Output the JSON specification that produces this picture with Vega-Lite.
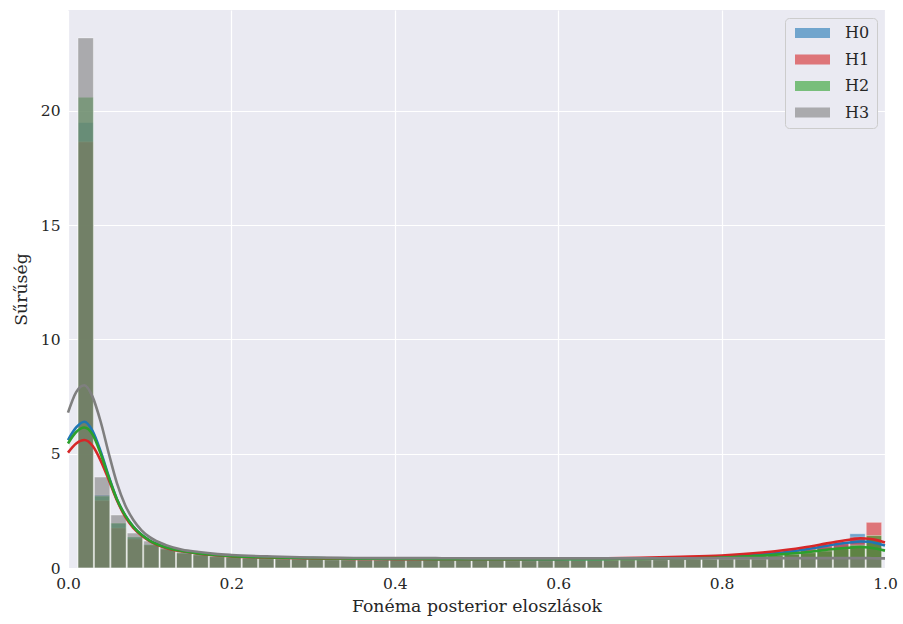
{
"$schema": "https://vega.github.io/schema/vega-lite/v6.json",
"width": 817, "height": 558,
"autosize": {"type": "none"},
"padding": {"left": 68, "top": 10, "right": 18, "bottom": 56},
"background": "white",
"config": {
  "font": "DejaVu Serif",
  "view": {"fill": "#EAEAF2", "stroke": null},
  "axis": {"domain": false, "ticks": false, "grid": true, "labelFlush": false, "gridColor": "white", "gridWidth": 1.2, "labelFont": "DejaVu Serif", "labelFontSize": 15.5, "labelColor": "#262626", "titleFont": "DejaVu Serif", "titleFontSize": 17.3, "titleFontWeight": "normal", "titleColor": "#262626"}
},
"datasets": {
"hist": [
{"s":"H0","x0":0.011,"x1":0.0311,"y":19.5},{"s":"H1","x0":0.011,"x1":0.0311,"y":18.65},{"s":"H2","x0":0.011,"x1":0.0311,"y":20.6},{"s":"H3","x0":0.011,"x1":0.0311,"y":23.2},
{"s":"H0","x0":0.0311,"x1":0.0512,"y":3.2},{"s":"H1","x0":0.0311,"x1":0.0512,"y":2.95},{"s":"H2","x0":0.0311,"x1":0.0512,"y":3.15},{"s":"H3","x0":0.0311,"x1":0.0512,"y":3.98},
{"s":"H0","x0":0.0512,"x1":0.0713,"y":1.95},{"s":"H1","x0":0.0512,"x1":0.0713,"y":1.75},{"s":"H2","x0":0.0512,"x1":0.0713,"y":1.97},{"s":"H3","x0":0.0512,"x1":0.0713,"y":2.32},
{"s":"H0","x0":0.0713,"x1":0.0914,"y":1.35},{"s":"H1","x0":0.0713,"x1":0.0914,"y":1.27},{"s":"H2","x0":0.0713,"x1":0.0914,"y":1.36},{"s":"H3","x0":0.0713,"x1":0.0914,"y":1.53},
{"s":"H0","x0":0.0914,"x1":0.1115,"y":1.02},{"s":"H1","x0":0.0914,"x1":0.1115,"y":1.0},{"s":"H2","x0":0.0914,"x1":0.1115,"y":1.03},{"s":"H3","x0":0.0914,"x1":0.1115,"y":1.18},
{"s":"H0","x0":0.1115,"x1":0.1316,"y":0.84},{"s":"H1","x0":0.1115,"x1":0.1316,"y":0.82},{"s":"H2","x0":0.1115,"x1":0.1316,"y":0.84},{"s":"H3","x0":0.1115,"x1":0.1316,"y":0.92},
{"s":"H0","x0":0.1316,"x1":0.1517,"y":0.66},{"s":"H1","x0":0.1316,"x1":0.1517,"y":0.64},{"s":"H2","x0":0.1316,"x1":0.1517,"y":0.66},{"s":"H3","x0":0.1316,"x1":0.1517,"y":0.7},
{"s":"H0","x0":0.1517,"x1":0.1718,"y":0.57},{"s":"H1","x0":0.1517,"x1":0.1718,"y":0.56},{"s":"H2","x0":0.1517,"x1":0.1718,"y":0.58},{"s":"H3","x0":0.1517,"x1":0.1718,"y":0.61},
{"s":"H0","x0":0.1718,"x1":0.1919,"y":0.5},{"s":"H1","x0":0.1718,"x1":0.1919,"y":0.49},{"s":"H2","x0":0.1718,"x1":0.1919,"y":0.5},{"s":"H3","x0":0.1718,"x1":0.1919,"y":0.53},
{"s":"H0","x0":0.1919,"x1":0.212,"y":0.46},{"s":"H1","x0":0.1919,"x1":0.212,"y":0.45},{"s":"H2","x0":0.1919,"x1":0.212,"y":0.46},{"s":"H3","x0":0.1919,"x1":0.212,"y":0.48},
{"s":"H0","x0":0.212,"x1":0.2321,"y":0.43},{"s":"H1","x0":0.212,"x1":0.2321,"y":0.42},{"s":"H2","x0":0.212,"x1":0.2321,"y":0.43},{"s":"H3","x0":0.212,"x1":0.2321,"y":0.45},
{"s":"H0","x0":0.2321,"x1":0.2522,"y":0.41},{"s":"H1","x0":0.2321,"x1":0.2522,"y":0.4},{"s":"H2","x0":0.2321,"x1":0.2522,"y":0.41},{"s":"H3","x0":0.2321,"x1":0.2522,"y":0.43},
{"s":"H0","x0":0.2522,"x1":0.2723,"y":0.39},{"s":"H1","x0":0.2522,"x1":0.2723,"y":0.39},{"s":"H2","x0":0.2522,"x1":0.2723,"y":0.4},{"s":"H3","x0":0.2522,"x1":0.2723,"y":0.42},
{"s":"H0","x0":0.2723,"x1":0.2924,"y":0.38},{"s":"H1","x0":0.2723,"x1":0.2924,"y":0.37},{"s":"H2","x0":0.2723,"x1":0.2924,"y":0.38},{"s":"H3","x0":0.2723,"x1":0.2924,"y":0.41},
{"s":"H0","x0":0.2924,"x1":0.3125,"y":0.37},{"s":"H1","x0":0.2924,"x1":0.3125,"y":0.36},{"s":"H2","x0":0.2924,"x1":0.3125,"y":0.37},{"s":"H3","x0":0.2924,"x1":0.3125,"y":0.4},
{"s":"H0","x0":0.3125,"x1":0.3326,"y":0.36},{"s":"H1","x0":0.3125,"x1":0.3326,"y":0.36},{"s":"H2","x0":0.3125,"x1":0.3326,"y":0.36},{"s":"H3","x0":0.3125,"x1":0.3326,"y":0.4},
{"s":"H0","x0":0.3326,"x1":0.3527,"y":0.36},{"s":"H1","x0":0.3326,"x1":0.3527,"y":0.35},{"s":"H2","x0":0.3326,"x1":0.3527,"y":0.36},{"s":"H3","x0":0.3326,"x1":0.3527,"y":0.39},
{"s":"H0","x0":0.3527,"x1":0.3728,"y":0.35},{"s":"H1","x0":0.3527,"x1":0.3728,"y":0.35},{"s":"H2","x0":0.3527,"x1":0.3728,"y":0.35},{"s":"H3","x0":0.3527,"x1":0.3728,"y":0.39},
{"s":"H0","x0":0.3728,"x1":0.3929,"y":0.35},{"s":"H1","x0":0.3728,"x1":0.3929,"y":0.34},{"s":"H2","x0":0.3728,"x1":0.3929,"y":0.35},{"s":"H3","x0":0.3728,"x1":0.3929,"y":0.38},
{"s":"H0","x0":0.3929,"x1":0.413,"y":0.34},{"s":"H1","x0":0.3929,"x1":0.413,"y":0.34},{"s":"H2","x0":0.3929,"x1":0.413,"y":0.34},{"s":"H3","x0":0.3929,"x1":0.413,"y":0.38},
{"s":"H0","x0":0.413,"x1":0.4331,"y":0.34},{"s":"H1","x0":0.413,"x1":0.4331,"y":0.34},{"s":"H2","x0":0.413,"x1":0.4331,"y":0.34},{"s":"H3","x0":0.413,"x1":0.4331,"y":0.38},
{"s":"H0","x0":0.4331,"x1":0.4532,"y":0.34},{"s":"H1","x0":0.4331,"x1":0.4532,"y":0.33},{"s":"H2","x0":0.4331,"x1":0.4532,"y":0.34},{"s":"H3","x0":0.4331,"x1":0.4532,"y":0.38},
{"s":"H0","x0":0.4532,"x1":0.4733,"y":0.33},{"s":"H1","x0":0.4532,"x1":0.4733,"y":0.33},{"s":"H2","x0":0.4532,"x1":0.4733,"y":0.33},{"s":"H3","x0":0.4532,"x1":0.4733,"y":0.38},
{"s":"H0","x0":0.4733,"x1":0.4934,"y":0.33},{"s":"H1","x0":0.4733,"x1":0.4934,"y":0.33},{"s":"H2","x0":0.4733,"x1":0.4934,"y":0.33},{"s":"H3","x0":0.4733,"x1":0.4934,"y":0.37},
{"s":"H0","x0":0.4934,"x1":0.5135,"y":0.33},{"s":"H1","x0":0.4934,"x1":0.5135,"y":0.33},{"s":"H2","x0":0.4934,"x1":0.5135,"y":0.33},{"s":"H3","x0":0.4934,"x1":0.5135,"y":0.37},
{"s":"H0","x0":0.5135,"x1":0.5336,"y":0.33},{"s":"H1","x0":0.5135,"x1":0.5336,"y":0.33},{"s":"H2","x0":0.5135,"x1":0.5336,"y":0.33},{"s":"H3","x0":0.5135,"x1":0.5336,"y":0.37},
{"s":"H0","x0":0.5336,"x1":0.5537,"y":0.33},{"s":"H1","x0":0.5336,"x1":0.5537,"y":0.33},{"s":"H2","x0":0.5336,"x1":0.5537,"y":0.32},{"s":"H3","x0":0.5336,"x1":0.5537,"y":0.37},
{"s":"H0","x0":0.5537,"x1":0.5738,"y":0.33},{"s":"H1","x0":0.5537,"x1":0.5738,"y":0.33},{"s":"H2","x0":0.5537,"x1":0.5738,"y":0.32},{"s":"H3","x0":0.5537,"x1":0.5738,"y":0.37},
{"s":"H0","x0":0.5738,"x1":0.5939,"y":0.33},{"s":"H1","x0":0.5738,"x1":0.5939,"y":0.34},{"s":"H2","x0":0.5738,"x1":0.5939,"y":0.32},{"s":"H3","x0":0.5738,"x1":0.5939,"y":0.37},
{"s":"H0","x0":0.5939,"x1":0.614,"y":0.33},{"s":"H1","x0":0.5939,"x1":0.614,"y":0.34},{"s":"H2","x0":0.5939,"x1":0.614,"y":0.33},{"s":"H3","x0":0.5939,"x1":0.614,"y":0.37},
{"s":"H0","x0":0.614,"x1":0.6341,"y":0.34},{"s":"H1","x0":0.614,"x1":0.6341,"y":0.35},{"s":"H2","x0":0.614,"x1":0.6341,"y":0.33},{"s":"H3","x0":0.614,"x1":0.6341,"y":0.37},
{"s":"H0","x0":0.6341,"x1":0.6542,"y":0.34},{"s":"H1","x0":0.6341,"x1":0.6542,"y":0.35},{"s":"H2","x0":0.6341,"x1":0.6542,"y":0.33},{"s":"H3","x0":0.6341,"x1":0.6542,"y":0.38},
{"s":"H0","x0":0.6542,"x1":0.6743,"y":0.35},{"s":"H1","x0":0.6542,"x1":0.6743,"y":0.36},{"s":"H2","x0":0.6542,"x1":0.6743,"y":0.34},{"s":"H3","x0":0.6542,"x1":0.6743,"y":0.38},
{"s":"H0","x0":0.6743,"x1":0.6944,"y":0.36},{"s":"H1","x0":0.6743,"x1":0.6944,"y":0.38},{"s":"H2","x0":0.6743,"x1":0.6944,"y":0.35},{"s":"H3","x0":0.6743,"x1":0.6944,"y":0.38},
{"s":"H0","x0":0.6944,"x1":0.7145,"y":0.37},{"s":"H1","x0":0.6944,"x1":0.7145,"y":0.39},{"s":"H2","x0":0.6944,"x1":0.7145,"y":0.35},{"s":"H3","x0":0.6944,"x1":0.7145,"y":0.38},
{"s":"H0","x0":0.7145,"x1":0.7346,"y":0.38},{"s":"H1","x0":0.7145,"x1":0.7346,"y":0.41},{"s":"H2","x0":0.7145,"x1":0.7346,"y":0.36},{"s":"H3","x0":0.7145,"x1":0.7346,"y":0.38},
{"s":"H0","x0":0.7346,"x1":0.7547,"y":0.4},{"s":"H1","x0":0.7346,"x1":0.7547,"y":0.43},{"s":"H2","x0":0.7346,"x1":0.7547,"y":0.37},{"s":"H3","x0":0.7346,"x1":0.7547,"y":0.39},
{"s":"H0","x0":0.7547,"x1":0.7748,"y":0.42},{"s":"H1","x0":0.7547,"x1":0.7748,"y":0.45},{"s":"H2","x0":0.7547,"x1":0.7748,"y":0.39},{"s":"H3","x0":0.7547,"x1":0.7748,"y":0.39},
{"s":"H0","x0":0.7748,"x1":0.7949,"y":0.44},{"s":"H1","x0":0.7748,"x1":0.7949,"y":0.48},{"s":"H2","x0":0.7748,"x1":0.7949,"y":0.4},{"s":"H3","x0":0.7748,"x1":0.7949,"y":0.39},
{"s":"H0","x0":0.7949,"x1":0.815,"y":0.47},{"s":"H1","x0":0.7949,"x1":0.815,"y":0.52},{"s":"H2","x0":0.7949,"x1":0.815,"y":0.42},{"s":"H3","x0":0.7949,"x1":0.815,"y":0.4},
{"s":"H0","x0":0.815,"x1":0.8351,"y":0.5},{"s":"H1","x0":0.815,"x1":0.8351,"y":0.56},{"s":"H2","x0":0.815,"x1":0.8351,"y":0.45},{"s":"H3","x0":0.815,"x1":0.8351,"y":0.4},
{"s":"H0","x0":0.8351,"x1":0.8552,"y":0.56},{"s":"H1","x0":0.8351,"x1":0.8552,"y":0.62},{"s":"H2","x0":0.8351,"x1":0.8552,"y":0.49},{"s":"H3","x0":0.8351,"x1":0.8552,"y":0.4},
{"s":"H0","x0":0.8552,"x1":0.8753,"y":0.62},{"s":"H1","x0":0.8552,"x1":0.8753,"y":0.7},{"s":"H2","x0":0.8552,"x1":0.8753,"y":0.54},{"s":"H3","x0":0.8552,"x1":0.8753,"y":0.41},
{"s":"H0","x0":0.8753,"x1":0.8954,"y":0.7},{"s":"H1","x0":0.8753,"x1":0.8954,"y":0.79},{"s":"H2","x0":0.8753,"x1":0.8954,"y":0.6},{"s":"H3","x0":0.8753,"x1":0.8954,"y":0.41},
{"s":"H0","x0":0.8954,"x1":0.9155,"y":0.8},{"s":"H1","x0":0.8954,"x1":0.9155,"y":0.9},{"s":"H2","x0":0.8954,"x1":0.9155,"y":0.67},{"s":"H3","x0":0.8954,"x1":0.9155,"y":0.42},
{"s":"H0","x0":0.9155,"x1":0.9356,"y":0.92},{"s":"H1","x0":0.9155,"x1":0.9356,"y":1.02},{"s":"H2","x0":0.9155,"x1":0.9356,"y":0.75},{"s":"H3","x0":0.9155,"x1":0.9356,"y":0.42},
{"s":"H0","x0":0.9356,"x1":0.9557,"y":1.05},{"s":"H1","x0":0.9356,"x1":0.9557,"y":1.15},{"s":"H2","x0":0.9356,"x1":0.9557,"y":0.85},{"s":"H3","x0":0.9356,"x1":0.9557,"y":0.43},
{"s":"H0","x0":0.9557,"x1":0.9758,"y":1.5},{"s":"H1","x0":0.9557,"x1":0.9758,"y":1.35},{"s":"H2","x0":0.9557,"x1":0.9758,"y":1.0},{"s":"H3","x0":0.9557,"x1":0.9758,"y":0.44},
{"s":"H0","x0":0.9758,"x1":0.9959,"y":1.25},{"s":"H1","x0":0.9758,"x1":0.9959,"y":2.0},{"s":"H2","x0":0.9758,"x1":0.9959,"y":1.42},{"s":"H3","x0":0.9758,"x1":0.9959,"y":0.45}
],
"kde": [
{"s":"H0","x":0,"y":5.6},{"s":"H0","x":0.01,"y":6.15},{"s":"H0","x":0.02,"y":6.4},{"s":"H0","x":0.03,"y":6.0},{"s":"H0","x":0.04,"y":5.1},{"s":"H0","x":0.05,"y":4.0},{"s":"H0","x":0.06,"y":3.0},{"s":"H0","x":0.07,"y":2.3},{"s":"H0","x":0.08,"y":1.8},{"s":"H0","x":0.09,"y":1.45},{"s":"H0","x":0.1,"y":1.2},{"s":"H0","x":0.12,"y":0.9},{"s":"H0","x":0.14,"y":0.74},{"s":"H0","x":0.16,"y":0.64},{"s":"H0","x":0.18,"y":0.57},{"s":"H0","x":0.2,"y":0.52},{"s":"H0","x":0.25,"y":0.46},{"s":"H0","x":0.3,"y":0.43},{"s":"H0","x":0.35,"y":0.41},{"s":"H0","x":0.4,"y":0.4},{"s":"H0","x":0.45,"y":0.39},{"s":"H0","x":0.5,"y":0.39},{"s":"H0","x":0.55,"y":0.39},{"s":"H0","x":0.6,"y":0.39},{"s":"H0","x":0.65,"y":0.4},{"s":"H0","x":0.7,"y":0.42},{"s":"H0","x":0.75,"y":0.45},{"s":"H0","x":0.8,"y":0.5},{"s":"H0","x":0.85,"y":0.6},{"s":"H0","x":0.88,"y":0.7},{"s":"H0","x":0.9,"y":0.8},{"s":"H0","x":0.92,"y":0.92},{"s":"H0","x":0.94,"y":1.04},{"s":"H0","x":0.96,"y":1.13},{"s":"H0","x":0.97,"y":1.16},{"s":"H0","x":0.98,"y":1.15},{"s":"H0","x":0.99,"y":1.08},{"s":"H0","x":1.0,"y":0.98},
{"s":"H1","x":0,"y":5.05},{"s":"H1","x":0.01,"y":5.45},{"s":"H1","x":0.02,"y":5.6},{"s":"H1","x":0.03,"y":5.35},{"s":"H1","x":0.04,"y":4.7},{"s":"H1","x":0.05,"y":3.85},{"s":"H1","x":0.06,"y":2.95},{"s":"H1","x":0.07,"y":2.25},{"s":"H1","x":0.08,"y":1.75},{"s":"H1","x":0.09,"y":1.42},{"s":"H1","x":0.1,"y":1.18},{"s":"H1","x":0.12,"y":0.88},{"s":"H1","x":0.14,"y":0.73},{"s":"H1","x":0.16,"y":0.63},{"s":"H1","x":0.18,"y":0.56},{"s":"H1","x":0.2,"y":0.51},{"s":"H1","x":0.25,"y":0.45},{"s":"H1","x":0.3,"y":0.42},{"s":"H1","x":0.35,"y":0.4},{"s":"H1","x":0.4,"y":0.39},{"s":"H1","x":0.45,"y":0.39},{"s":"H1","x":0.5,"y":0.39},{"s":"H1","x":0.55,"y":0.39},{"s":"H1","x":0.6,"y":0.4},{"s":"H1","x":0.65,"y":0.42},{"s":"H1","x":0.7,"y":0.45},{"s":"H1","x":0.75,"y":0.49},{"s":"H1","x":0.8,"y":0.55},{"s":"H1","x":0.85,"y":0.68},{"s":"H1","x":0.88,"y":0.8},{"s":"H1","x":0.9,"y":0.9},{"s":"H1","x":0.92,"y":1.02},{"s":"H1","x":0.94,"y":1.15},{"s":"H1","x":0.96,"y":1.26},{"s":"H1","x":0.97,"y":1.3},{"s":"H1","x":0.98,"y":1.28},{"s":"H1","x":0.99,"y":1.22},{"s":"H1","x":1.0,"y":1.12},
{"s":"H2","x":0,"y":5.45},{"s":"H2","x":0.01,"y":5.95},{"s":"H2","x":0.02,"y":6.15},{"s":"H2","x":0.03,"y":5.85},{"s":"H2","x":0.04,"y":5.0},{"s":"H2","x":0.05,"y":3.95},{"s":"H2","x":0.06,"y":3.0},{"s":"H2","x":0.07,"y":2.3},{"s":"H2","x":0.08,"y":1.8},{"s":"H2","x":0.09,"y":1.45},{"s":"H2","x":0.1,"y":1.2},{"s":"H2","x":0.12,"y":0.9},{"s":"H2","x":0.14,"y":0.74},{"s":"H2","x":0.16,"y":0.64},{"s":"H2","x":0.18,"y":0.57},{"s":"H2","x":0.2,"y":0.52},{"s":"H2","x":0.25,"y":0.46},{"s":"H2","x":0.3,"y":0.43},{"s":"H2","x":0.35,"y":0.41},{"s":"H2","x":0.4,"y":0.4},{"s":"H2","x":0.45,"y":0.39},{"s":"H2","x":0.5,"y":0.38},{"s":"H2","x":0.55,"y":0.38},{"s":"H2","x":0.6,"y":0.38},{"s":"H2","x":0.65,"y":0.39},{"s":"H2","x":0.7,"y":0.4},{"s":"H2","x":0.75,"y":0.42},{"s":"H2","x":0.8,"y":0.46},{"s":"H2","x":0.85,"y":0.54},{"s":"H2","x":0.88,"y":0.62},{"s":"H2","x":0.9,"y":0.68},{"s":"H2","x":0.92,"y":0.76},{"s":"H2","x":0.94,"y":0.84},{"s":"H2","x":0.96,"y":0.9},{"s":"H2","x":0.97,"y":0.92},{"s":"H2","x":0.98,"y":0.9},{"s":"H2","x":0.99,"y":0.84},{"s":"H2","x":1.0,"y":0.76},
{"s":"H3","x":0,"y":6.8},{"s":"H3","x":0.01,"y":7.7},{"s":"H3","x":0.02,"y":8.0},{"s":"H3","x":0.03,"y":7.5},{"s":"H3","x":0.04,"y":6.4},{"s":"H3","x":0.05,"y":5.0},{"s":"H3","x":0.06,"y":3.7},{"s":"H3","x":0.07,"y":2.75},{"s":"H3","x":0.08,"y":2.1},{"s":"H3","x":0.09,"y":1.65},{"s":"H3","x":0.1,"y":1.35},{"s":"H3","x":0.12,"y":1.0},{"s":"H3","x":0.14,"y":0.8},{"s":"H3","x":0.16,"y":0.7},{"s":"H3","x":0.18,"y":0.62},{"s":"H3","x":0.2,"y":0.57},{"s":"H3","x":0.25,"y":0.5},{"s":"H3","x":0.3,"y":0.46},{"s":"H3","x":0.35,"y":0.44},{"s":"H3","x":0.4,"y":0.43},{"s":"H3","x":0.45,"y":0.43},{"s":"H3","x":0.5,"y":0.42},{"s":"H3","x":0.55,"y":0.42},{"s":"H3","x":0.6,"y":0.42},{"s":"H3","x":0.65,"y":0.42},{"s":"H3","x":0.7,"y":0.42},{"s":"H3","x":0.75,"y":0.42},{"s":"H3","x":0.8,"y":0.43},{"s":"H3","x":0.85,"y":0.43},{"s":"H3","x":0.88,"y":0.43},{"s":"H3","x":0.9,"y":0.43},{"s":"H3","x":0.92,"y":0.43},{"s":"H3","x":0.94,"y":0.43},{"s":"H3","x":0.96,"y":0.43},{"s":"H3","x":0.97,"y":0.43},{"s":"H3","x":0.98,"y":0.43},{"s":"H3","x":0.99,"y":0.42},{"s":"H3","x":1.0,"y":0.42}
]
},
"layer": [
  {
    "data": {"name": "hist"},
    "mark": {"type": "bar", "orient": "vertical", "fillOpacity": 0.6, "stroke": "white", "strokeOpacity": 0.4, "strokeWidth": 1},
    "encoding": {
      "x": {"field": "x0", "type": "quantitative", "bin": "binned", "scale": {"domain": [0, 1], "nice": false, "zero": false}, "axis": {"title": "Fonéma posterior eloszlások", "grid": true, "labelFlush": false, "values": [0, 0.2, 0.4, 0.6, 0.8, 1], "format": ".1f", "labelPadding": 8, "titlePadding": 6}},
      "x2": {"field": "x1"},
      "y": {"field": "y", "type": "quantitative", "stack": null, "scale": {"domain": [0, 24.42], "nice": false}, "axis": {"title": "Sűrűség", "values": [0, 5, 10, 15, 20], "labelPadding": 8, "titlePadding": 10}},
      "color": {"field": "s", "type": "nominal", "scale": {"domain": ["H0", "H1", "H2", "H3"], "range": ["#1f77b4", "#d62728", "#2ca02c", "#7f7f7f"]},
        "legend": {"title": null, "orient": "top-right", "offset": 8, "symbolType": "M-1,-1L6,-1L6,1L-1,1Z", "symbolSize": 100, "symbolOpacity": 0.6, "symbolStrokeWidth": 0, "labelFontSize": 16, "labelFont": "DejaVu Serif", "labelColor": "#262626", "labelOffset": 37, "rowPadding": 10.5, "strokeColor": "#cccccc", "fillColor": "#EAEAF2", "cornerRadius": 4, "padding": 7}}
    }
  },
  {
    "data": {"name": "kde"},
    "mark": {"type": "line", "strokeWidth": 2.6, "interpolate": "monotone"},
    "encoding": {
      "x": {"field": "x", "type": "quantitative"},
      "y": {"field": "y", "type": "quantitative"},
      "color": {"field": "s", "type": "nominal", "legend": null}
    }
  }
]
}
